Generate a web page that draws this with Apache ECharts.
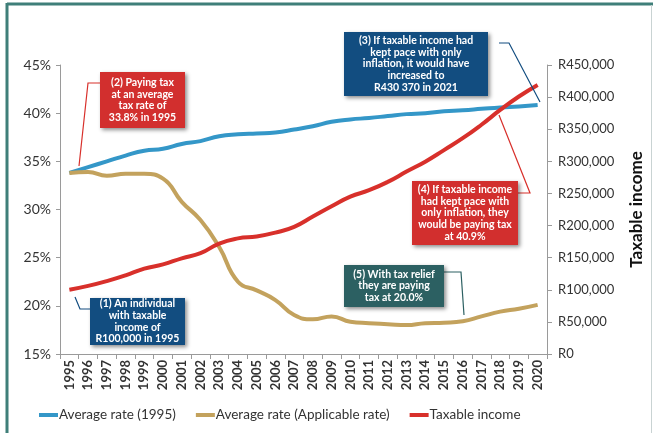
<!DOCTYPE html>
<html>
<head>
<meta charset="utf-8">
<script src="https://cdn.jsdelivr.net/npm/echarts@6/dist/echarts.min.js"></script>
<style>
html,body{margin:0;padding:0;background:#fff;}
#c{width:655px;height:433px;}
</style>
</head>
<body>
<div id="c"></div>
<script>
var years = ['1995','1996','1997','1998','1999','2000','2001','2002','2003','2004','2005','2006','2007','2008','2009','2010','2011','2012','2013','2014','2015','2016','2017','2018','2019','2020'];
var avgRate1995 = [33.8,34.4,35.0,35.6,36.1,36.3,36.8,37.1,37.6,37.8,37.9,38.0,38.3,38.65,39.1,39.35,39.5,39.7,39.9,40.0,40.2,40.3,40.45,40.6,40.7,40.85];
var avgRateApplicable = [33.8,33.9,33.5,33.7,33.7,33.2,30.8,28.9,26.1,22.5,21.6,20.6,19.05,18.6,18.9,18.35,18.2,18.1,18.0,18.2,18.25,18.4,18.9,19.4,19.7,20.1];
var taxableIncome = [100000,106000,113500,122500,133000,139500,149000,157000,172000,180000,183000,189000,198000,214000,230000,245000,255000,268000,284000,299500,317500,336000,357000,380000,401000,419000];
var leftTicks = {min:15, max:45, interval:5};
var rightTicks = {min:0, max:450000, interval:50000};
var seriesNames = ['Average rate (1995)','Average rate (Applicable rate)','Taxable income'];
var notes = [
  ['(2) Paying tax','at an average','tax rate of','33.8% in 1995'],
  ['(3) If taxable income had','kept pace with only','inflation, it would have','increased to','R430 370 in 2021'],
  ['(4) If taxable income','had kept pace with','only inflation, they','would be paying tax','at 40.9%'],
  ['(1) An individual','with taxable','income of','R100,000 in 1995'],
  ['(5) With tax relief','they are paying','tax at 20.0%']
];

var chart = echarts.init(document.getElementById('c'), null, {renderer:'canvas'});
var FONT = 'Lato, "Open Sans", sans-serif';
var cBlue = '#3497c8', cGold = '#c3a25d', cRed = '#d8302b';
var boxRed = '#d22f2e', boxBlue = '#124d80', boxTeal = '#2c6062';

function box(x, y, w, h, fill, lines) {
  return {
    type: 'group',
    children: [
      {type:'rect', shape:{x:x, y:y, width:w, height:h},
        style:{fill:fill, shadowBlur:4, shadowColor:'rgba(0,0,0,0.45)', shadowOffsetX:2, shadowOffsetY:2}, z:10},
      {type:'text', x:x + w/2, y:y + h/2, z:11,
        style:{text:lines.join('\n'), fill:'#fff', font:'bold 10.5px ' + FONT, lineHeight:11.6,
          align:'center', verticalAlign:'middle'}}
    ]
  };
}
function conn(points, color) {
  return {type:'polyline', shape:{points:points}, style:{stroke:color, lineWidth:1.2, fill:null}, z:9};
}

chart.setOption({
  animation: false,
  backgroundColor: '#fff',
  textStyle: {fontFamily: FONT},
  grid: {left:60, right:108, top:65, bottom:79, containLabel:false},
  legend: {
    left: 34, top: 403,
    itemWidth: 19, itemHeight: 4, itemGap: 20,
    icon: 'rect',
    textStyle: {fontSize: 13.5, color: '#333', fontFamily: FONT, padding:[0,0,0,-4]},
    data: seriesNames
  },
  xAxis: {
    type: 'category', data: years, boundaryGap: true,
    axisLine: {lineStyle: {color: '#9a9a9a', width: 1}},
    axisTick: {show: true, interval: 0, length: 5, lineStyle: {color: '#9a9a9a'}},
    axisLabel: {interval: 0, rotate: 90, fontSize: 13, fontWeight: 'bold', color: '#333', margin: 6}
  },
  yAxis: [
    {type: 'value', min: leftTicks.min, max: leftTicks.max, interval: leftTicks.interval, position: 'left',
      axisLine: {show: true, lineStyle: {color: '#9a9a9a'}},
      axisTick: {show: true, length: 4, lineStyle: {color: '#9a9a9a'}},
      splitLine: {show: false},
      axisLabel: {formatter: '{value}%', fontSize: 14, color: '#333', margin: 9}},
    {type: 'value', min: rightTicks.min, max: rightTicks.max, interval: rightTicks.interval, position: 'right',
      name: 'Taxable income', nameLocation: 'middle', nameRotate: 90, nameGap: 81,
      nameTextStyle: {fontSize: 17, fontWeight: 'bold', color: '#111'},
      axisLine: {show: true, lineStyle: {color: '#9a9a9a'}},
      axisTick: {show: true, length: 5, lineStyle: {color: '#9a9a9a'}},
      splitLine: {show: false},
      axisLabel: {formatter: function(v){ return 'R' + v.toLocaleString('en-US'); }, fontSize: 13, color: '#333', margin: 11}}
  ],
  series: [
    {name: seriesNames[0], type: 'line', data: avgRate1995, yAxisIndex: 0, smooth: true, showSymbol: false,
      lineStyle: {width: 4, color: cBlue}, itemStyle: {color: cBlue}},
    {name: seriesNames[1], type: 'line', data: avgRateApplicable, yAxisIndex: 0, smooth: true, showSymbol: false,
      lineStyle: {width: 4, color: cGold}, itemStyle: {color: cGold}},
    {name: seriesNames[2], type: 'line', data: taxableIncome, yAxisIndex: 1, smooth: true, showSymbol: false,
      lineStyle: {width: 4, color: cRed}, itemStyle: {color: cRed}}
  ],
  graphic: [
    {type:'line', shape:{x1:7, y1:4, x2:653, y2:4}, style:{stroke:'#3f7f79', lineWidth:3}, z:20},
    {type:'line', shape:{x1:7, y1:3, x2:7, y2:433}, style:{stroke:'#3f7f79', lineWidth:3}, z:20},
    {type:'line', shape:{x1:651.5, y1:5, x2:651.5, y2:433}, style:{stroke:'#c9d3d3', lineWidth:1}, z:20},
    conn([[100,83],[88,83],[79,166]], cRed),
    box(100, 72, 85, 56, boxRed, notes[0]),
    conn([[499,43],[509,43],[540,102]], boxBlue),
    box(344, 32, 144, 64, boxBlue, notes[1]),
    conn([[518,193],[530,193],[499,115]], cRed),
    box(412, 181, 106, 64, boxRed, notes[2]),
    conn([[75,297],[80,309],[90,309]], boxBlue),
    box(90, 298, 95, 47, boxBlue, notes[3]),
    conn([[444,272],[461,272],[464,315]], boxTeal),
    box(344, 265, 100, 42, boxTeal, notes[4])
  ]
});
</script>
</body>
</html>
